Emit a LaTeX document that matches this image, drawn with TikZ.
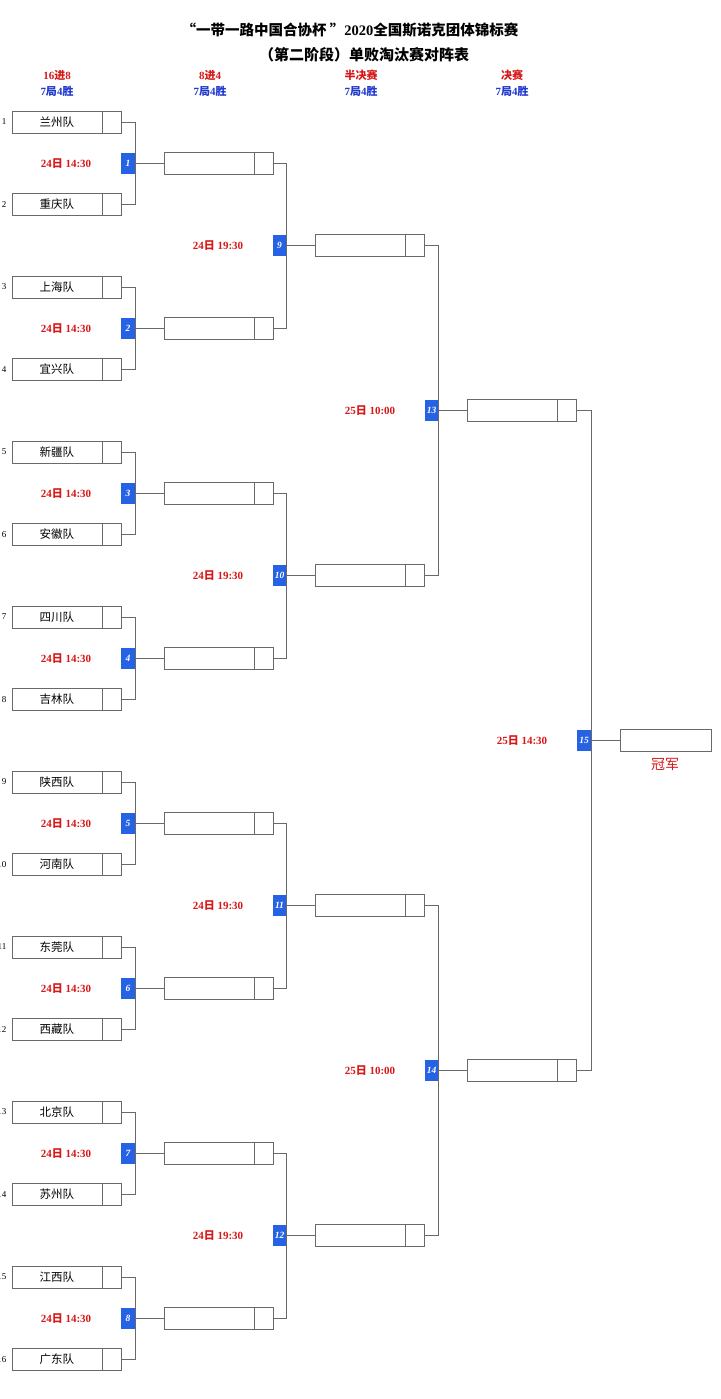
\documentclass[tikz,border=0pt]{standalone}
\usepackage{fontspec}
\setmainfont{Liberation Serif}
\newfontfamily\cjk{Noto Sans CJK SC}
\usepackage{xcolor}
\usepackage{tikz}
\usetikzlibrary{positioning}

\definecolor{linegray}{RGB}{105,105,105}
\definecolor{matchblue}{RGB}{38,98,228}
\definecolor{dayred}{RGB}{214,24,24}
\definecolor{headblue}{RGB}{32,56,204}

\newcommand{\bc}[1]{{\cjk\bfseries #1}}
\newcommand{\tm}[1]{\makebox[90pt]{\cjk #1}\hspace*{19pt}}
\newcommand{\when}[2]{#1\bc{日} #2}

\begin{document}
\begin{tikzpicture}[
    x=1pt, y=-1pt,
    slot/.style={rectangle, draw=linegray, line width=0.8pt, fill=white, minimum width=109pt, minimum height=22pt, inner sep=0pt, font=\fontsize{11.5}{12}\selectfont,
        path picture={\draw[linegray, line width=0.8pt] ([xshift=-19pt]path picture bounding box.north east) -- ([xshift=-19pt]path picture bounding box.south east);}},
    champ/.style={rectangle, draw=linegray, line width=0.8pt, minimum width=91pt, minimum height=22pt, inner sep=0pt},
    mnum/.style={rectangle, fill=matchblue, minimum width=14pt, minimum height=21pt, inner sep=0pt, text=white, font=\fontsize{9.5}{10}\selectfont\bfseries\itshape},
    when/.style={font=\fontsize{11}{12}\selectfont\bfseries, text=dayred},
    seed/.style={anchor=east, inner sep=0pt, font=\fontsize{9}{9}\selectfont},
    head/.style={font=\fontsize{11}{16}\selectfont\bfseries, align=center},
    wire/.style={draw=linegray, line width=0.8pt}
]
    \useasboundingbox[fill=white] (0,0) rectangle (720,1399);

    % Tiêu đề và tên vòng đấu
    \node[font=\fontsize{14.5}{16}\selectfont\bfseries] (title) at (350,30) {\bc{“一带一路中国合协杯 ”}2020\bc{全国斯诺克团体锦标赛}};
    \node[font=\fontsize{15}{16}\selectfont] (subtitle) at (364,55) {\bc{（第二阶段）单败淘汰赛对阵表}};

    \node[head] (h1) at (57,83) {{\color{dayred}16\bc{进}8}\\{\color{headblue}7\bc{局}4\bc{胜}}};
    \node[head] (h2) at (210,83) {{\color{dayred}8\bc{进}4}\\{\color{headblue}7\bc{局}4\bc{胜}}};
    \node[head] (h3) at (361,83) {{\color{dayred}\bc{半决赛}}\\{\color{headblue}7\bc{局}4\bc{胜}}};
    \node[head] (h4) at (512,83) {{\color{dayred}\bc{决赛}}\\{\color{headblue}7\bc{局}4\bc{胜}}};

    % Vòng 16 đội (cột trái)
    \node[slot] (t1) at (66.5,122) {\tm{兰州队}};
    \node[slot] (t2) at (66.5,204.5) {\tm{重庆队}};
    \node[slot] (t3) at (66.5,287) {\tm{上海队}};
    \node[slot] (t4) at (66.5,369.5) {\tm{宜兴队}};
    \node[slot] (t5) at (66.5,452) {\tm{新疆队}};
    \node[slot] (t6) at (66.5,534.5) {\tm{安徽队}};
    \node[slot] (t7) at (66.5,617) {\tm{四川队}};
    \node[slot] (t8) at (66.5,699.5) {\tm{吉林队}};
    \node[slot] (t9) at (66.5,782) {\tm{陕西队}};
    \node[slot] (t10) at (66.5,864.5) {\tm{河南队}};
    \node[slot] (t11) at (66.5,947) {\tm{东莞队}};
    \node[slot] (t12) at (66.5,1029.5) {\tm{西藏队}};
    \node[slot] (t13) at (66.5,1112) {\tm{北京队}};
    \node[slot] (t14) at (66.5,1194.5) {\tm{苏州队}};
    \node[slot] (t15) at (66.5,1277) {\tm{江西队}};
    \node[slot] (t16) at (66.5,1359.5) {\tm{广东队}};

    % Số thứ tự (bị cắt ở mép trái)
    \node[seed] (s1) at (6.5,122) {1};
    \node[seed] (s2) at (6.5,204.5) {2};
    \node[seed] (s3) at (6.5,287) {3};
    \node[seed] (s4) at (6.5,369.5) {4};
    \node[seed] (s5) at (6.5,452) {5};
    \node[seed] (s6) at (6.5,534.5) {6};
    \node[seed] (s7) at (6.5,617) {7};
    \node[seed] (s8) at (6.5,699.5) {8};
    \node[seed] (s9) at (6.5,782) {9};
    \node[seed] (s10) at (6.5,864.5) {10};
    \node[seed] (s11) at (6.5,947) {11};
    \node[seed] (s12) at (6.5,1029.5) {12};
    \node[seed] (s13) at (6.5,1112) {13};
    \node[seed] (s14) at (6.5,1194.5) {14};
    \node[seed] (s15) at (6.5,1277) {15};
    \node[seed] (s16) at (6.5,1359.5) {16};

    % Trận 1-8
    \node[mnum] (m1) at (128,163.25) {1};
    \node[mnum] (m2) at (128,328.25) {2};
    \node[mnum] (m3) at (128,493.25) {3};
    \node[mnum] (m4) at (128,658.25) {4};
    \node[mnum] (m5) at (128,823.25) {5};
    \node[mnum] (m6) at (128,988.25) {6};
    \node[mnum] (m7) at (128,1153.25) {7};
    \node[mnum] (m8) at (128,1318.25) {8};

    \node[when] (d1) at (66,163.25) {\when{24}{14:30}};
    \node[when] (d2) at (66,328.25) {\when{24}{14:30}};
    \node[when] (d3) at (66,493.25) {\when{24}{14:30}};
    \node[when] (d4) at (66,658.25) {\when{24}{14:30}};
    \node[when] (d5) at (66,823.25) {\when{24}{14:30}};
    \node[when] (d6) at (66,988.25) {\when{24}{14:30}};
    \node[when] (d7) at (66,1153.25) {\when{24}{14:30}};
    \node[when] (d8) at (66,1318.25) {\when{24}{14:30}};

    % Vòng 8 đội
    \node[slot] (w1) at (218.5,163.25) {};
    \node[slot] (w2) at (218.5,328.25) {};
    \node[slot] (w3) at (218.5,493.25) {};
    \node[slot] (w4) at (218.5,658.25) {};
    \node[slot] (w5) at (218.5,823.25) {};
    \node[slot] (w6) at (218.5,988.25) {};
    \node[slot] (w7) at (218.5,1153.25) {};
    \node[slot] (w8) at (218.5,1318.25) {};

    \node[mnum] (m9) at (279.5,245.75) {9};
    \node[mnum] (m10) at (279.5,575.75) {10};
    \node[mnum] (m11) at (279.5,905.75) {11};
    \node[mnum] (m12) at (279.5,1235.75) {12};

    \node[when] (d9) at (218,245.75) {\when{24}{19:30}};
    \node[when] (d10) at (218,575.75) {\when{24}{19:30}};
    \node[when] (d11) at (218,905.75) {\when{24}{19:30}};
    \node[when] (d12) at (218,1235.75) {\when{24}{19:30}};

    % Bán kết
    \node[slot] (w9) at (369.5,245.75) {};
    \node[slot] (w10) at (369.5,575.75) {};
    \node[slot] (w11) at (369.5,905.75) {};
    \node[slot] (w12) at (369.5,1235.75) {};

    \node[mnum] (m13) at (431.5,410.75) {13};
    \node[mnum] (m14) at (431.5,1070.75) {14};

    \node[when] (d13) at (370,410.75) {\when{25}{10:00}};
    \node[when] (d14) at (370,1070.75) {\when{25}{10:00}};

    % Chung kết
    \node[slot] (w13) at (521.5,410.75) {};
    \node[slot] (w14) at (521.5,1070.75) {};

    \node[mnum] (m15) at (584,740.75) {15};
    \node[when] (d15) at (522,740.75) {\when{25}{14:30}};

    \node[champ] (w15) at (665.5,740.75) {};
    \node[font=\fontsize{14}{14}\selectfont, text=dayred] (win) at (665,764) {{\cjk 冠军}};

    % Đường nối vòng 1
    \draw[wire] (t1.east) -| (m1.east) |- (t2.east);
    \draw[wire] (t3.east) -| (m2.east) |- (t4.east);
    \draw[wire] (t5.east) -| (m3.east) |- (t6.east);
    \draw[wire] (t7.east) -| (m4.east) |- (t8.east);
    \draw[wire] (t9.east) -| (m5.east) |- (t10.east);
    \draw[wire] (t11.east) -| (m6.east) |- (t12.east);
    \draw[wire] (t13.east) -| (m7.east) |- (t14.east);
    \draw[wire] (t15.east) -| (m8.east) |- (t16.east);
    \draw[wire] (m1.east) -- (w1.west);
    \draw[wire] (m2.east) -- (w2.west);
    \draw[wire] (m3.east) -- (w3.west);
    \draw[wire] (m4.east) -- (w4.west);
    \draw[wire] (m5.east) -- (w5.west);
    \draw[wire] (m6.east) -- (w6.west);
    \draw[wire] (m7.east) -- (w7.west);
    \draw[wire] (m8.east) -- (w8.west);

    % Đường nối vòng 2
    \draw[wire] (w1.east) -| (m9.east) |- (w2.east);
    \draw[wire] (w3.east) -| (m10.east) |- (w4.east);
    \draw[wire] (w5.east) -| (m11.east) |- (w6.east);
    \draw[wire] (w7.east) -| (m12.east) |- (w8.east);
    \draw[wire] (m9.east) -- (w9.west);
    \draw[wire] (m10.east) -- (w10.west);
    \draw[wire] (m11.east) -- (w11.west);
    \draw[wire] (m12.east) -- (w12.west);

    % Đường nối bán kết và chung kết
    \draw[wire] (w9.east) -| (m13.east) |- (w10.east);
    \draw[wire] (w11.east) -| (m14.east) |- (w12.east);
    \draw[wire] (m13.east) -- (w13.west);
    \draw[wire] (m14.east) -- (w14.west);
    \draw[wire] (w13.east) -| (m15.east) |- (w14.east);
    \draw[wire] (m15.east) -- (w15.west);
\end{tikzpicture}
\end{document}
